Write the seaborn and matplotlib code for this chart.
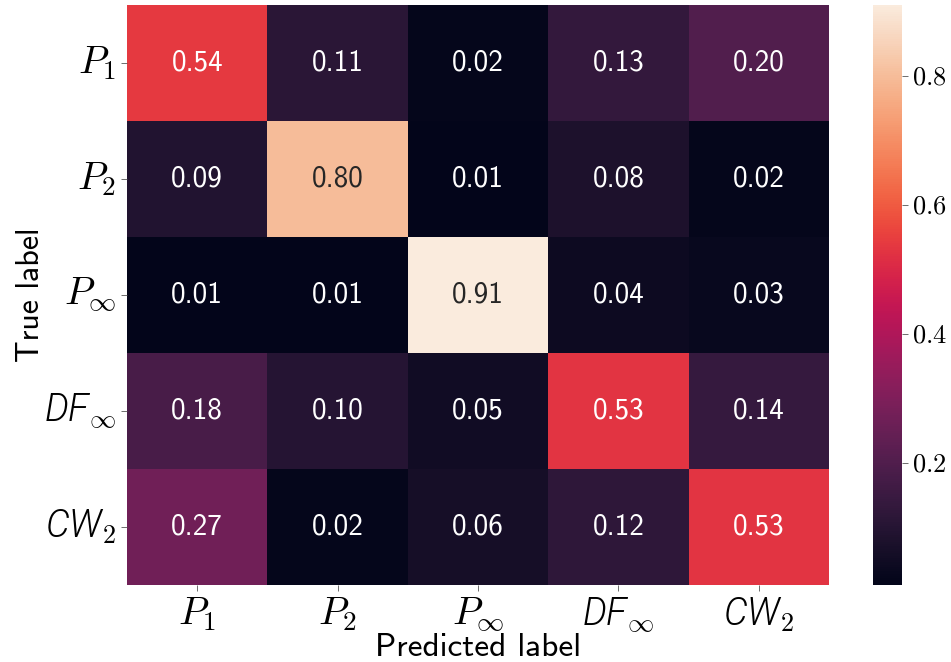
import numpy as np
import pandas as pd
import matplotlib
matplotlib.use("Agg")
import matplotlib.pyplot as plt
import matplotlib.ticker as mticker
import seaborn as sns

plt.rcParams["mathtext.fontset"] = "cm"
plt.rcParams["font.family"] = ["cmss10", "DejaVu Sans"]
plt.rcParams["axes.unicode_minus"] = False

# Normalised confusion matrix (rows: true class, columns: predicted class)
class_labels = [r"$P_1$", r"$P_2$", r"$P_\infty$", r"DF$_\infty$", r"CW$_2$"]
row_p1 = [0.54, 0.11, 0.02, 0.13, 0.20]
row_p2 = [0.09, 0.80, 0.01, 0.08, 0.02]
row_pinf = [0.01, 0.01, 0.91, 0.04, 0.03]
row_dfinf = [0.18, 0.10, 0.05, 0.53, 0.14]
row_cw2 = [0.27, 0.02, 0.06, 0.12, 0.53]

cm = pd.DataFrame([row_p1, row_p2, row_pinf, row_dfinf, row_cw2],
                  index=class_labels, columns=class_labels)

fig = plt.figure(figsize=(9.51, 6.62), dpi=100)
W, H = 951, 662
ax = fig.add_axes([127 / W, (H - 585) / H, (829 - 127) / W, 580 / H])
cax = fig.add_axes([873 / W, (H - 585) / H, 29 / W, 580 / H])

sns.heatmap(cm, ax=ax, cbar_ax=cax, cmap="rocket", annot=True, fmt=".2f",
            annot_kws={"fontsize": 21, "family": "cmss10"})

ax.set_xlabel("Predicted label", fontsize=24)
ax.set_ylabel("True label", fontsize=23)
ax.xaxis.label.set_va("baseline")
ax.yaxis.label.set_va("baseline")
ax.xaxis.set_label_coords(0.5, (585 - 656) / 580)
ax.yaxis.set_label_coords((39 - 127) / 702, 0.5)

ax.tick_params(axis="both", labelsize=28, length=4, width=0.6, color="#555555")
ax.set_yticklabels(class_labels, rotation=0)
ax.set_xticklabels(class_labels, rotation=0)
# Word-like class names in italic sans
for lab in list(ax.get_xticklabels()) + list(ax.get_yticklabels()):
    if not lab.get_text().startswith("$"):
        lab.set_fontfamily(["Roboto", "DejaVu Sans"])
        lab.set_fontstyle("italic")
        lab.set_fontweight(300)
        lab.set_fontsize(27)

cax.yaxis.set_major_locator(mticker.FixedLocator([0.2, 0.4, 0.6, 0.8]))
cax.yaxis.set_major_formatter(mticker.FuncFormatter(lambda v, p: rf"${v:.1f}$"))
cax.tick_params(labelsize=19, length=4, width=0.6, color="#555555")
for s in cax.spines.values():
    s.set_visible(False)

fig.savefig("out.png", dpi=100)
